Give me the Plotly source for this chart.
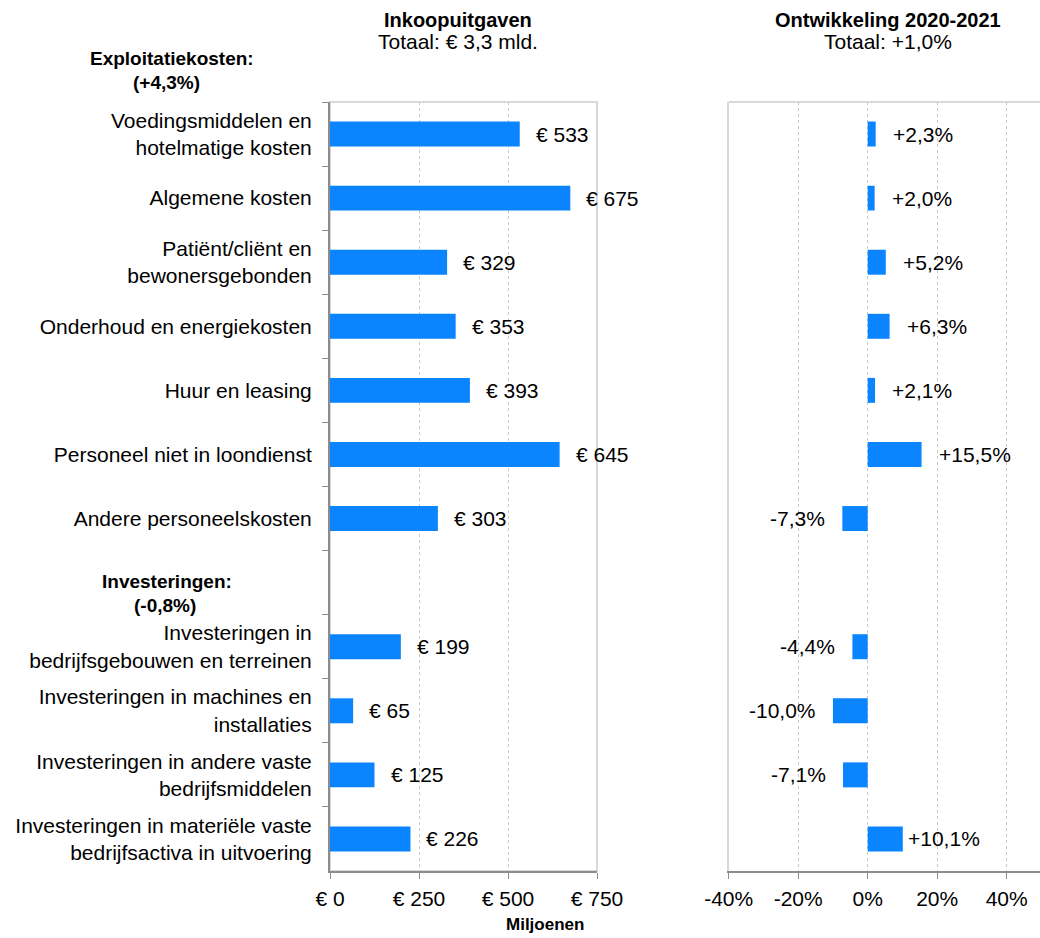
import plotly.graph_objects as go

# ---- data ----
categories = [
    "Voedingsmiddelen en<br>hotelmatige kosten",
    "Algemene kosten",
    "Patiënt/cliënt en<br>bewonersgebonden",
    "Onderhoud en energiekosten",
    "Huur en leasing",
    "Personeel niet in loondienst",
    "Andere personeelskosten",
    " ",
    "Investeringen in<br>bedrijfsgebouwen en terreinen",
    "Investeringen in machines en<br>installaties",
    "Investeringen in andere vaste<br>bedrijfsmiddelen",
    "Investeringen in materiële vaste<br>bedrijfsactiva in uitvoering",
]
spend_mln = [533, 675, 329, 353, 393, 645, 303, None, 199, 65, 125, 226]
growth_pct = [2.3, 2.0, 5.2, 6.3, 2.1, 15.5, -7.3, None, -4.4, -10.0, -7.1, 10.1]
left_ticks = [0, 250, 500, 750]
right_ticks = [-40, -20, 0, 20, 40]

title_left = ["<b>Inkoopuitgaven</b>", "Totaal: € 3,3 mld."]
title_right = ["<b>Ontwikkeling 2020-2021</b>", "Totaal: +1,0%"]
header_expl = ["<b>Exploitatiekosten:</b>", "<b>(+4,3%)</b>"]
header_inv = ["<b>Investeringen:</b>", "<b>(-0,8%)</b>"]
x_title = "<b>Miljoenen</b>"

# ---- style ----
W, H = 1040, 938
FONT = "Liberation Sans, Arial, sans-serif"
FS = 21
BLUE = "#0a84ff"
AXIS = "#8c8c8c"
BORDER = "#d9d9d9"
GRID = "#c8c8c8"
top, bottom = 102, 871
plot_h = bottom - top


def fx(p):
    return p / W


def fy(p):
    return (bottom - p) / plot_h


fig = go.Figure()
fig.add_trace(go.Bar(
    y=categories, x=spend_mln, orientation="h", marker_color=BLUE,
    marker_line_width=0, xaxis="x", yaxis="y", hoverinfo="skip"))
fig.add_trace(go.Bar(
    y=categories, x=[None if g is None else g / 100 for g in growth_pct],
    orientation="h", marker_color=BLUE, marker_line_width=0,
    xaxis="x2", yaxis="y2", hoverinfo="skip"))

annotations = []
for c, v in zip(categories, spend_mln):
    if v is None:
        continue
    annotations.append(dict(x=v, y=c, xref="x", yref="y", text=f"€ {v}",
                            showarrow=False, xanchor="left", xshift=14,
                            font=dict(size=FS)))
for c, g in zip(categories, growth_pct):
    if g is None:
        continue
    txt = f"{g:+.1f}%".replace(".", ",")
    shift = 15
    if 10 <= g < 11:
        shift = 3
    annotations.append(dict(x=g / 100, y=c, xref="x2", yref="y2", text=txt,
                            showarrow=False,
                            xanchor="left" if g >= 0 else "right",
                            xshift=shift if g >= 0 else -15,
                            font=dict(size=FS)))


def text_at(px, pyy, txt, size):
    return dict(x=fx(px), y=fy(pyy), xref="paper", yref="paper", text=txt,
                showarrow=False, xanchor="center", yanchor="middle",
                font=dict(size=size))


annotations += [
    text_at(458, 20, title_left[0], 20),
    text_at(458, 42, title_left[1], FS),
    text_at(888, 20, title_right[0], 20),
    text_at(888, 42, title_right[1], FS),
    text_at(172, 58, header_expl[0], 19),
    text_at(166, 82, header_expl[1], 19),
    text_at(167, 581, header_inv[0], 19),
    text_at(165, 605, header_inv[1], 19),
    text_at(545, 924, x_title, 17),
]

shapes = [
    dict(type="rect", xref="x domain", yref="y domain", x0=0, x1=1, y0=0, y1=1,
         line=dict(color=BORDER, width=2), layer="below"),
    dict(type="line", xref="x2 domain", yref="y2 domain", x0=0, x1=1.2, y0=1, y1=1,
         line=dict(color=BORDER, width=2), layer="below"),
]

fig.update_layout(
    width=W, height=H,
    margin=dict(l=0, r=0, t=top, b=H - bottom, autoexpand=False),
    paper_bgcolor="white", plot_bgcolor="white",
    font=dict(family=FONT, size=FS, color="black"),
    showlegend=False, bargap=0.61,
    annotations=annotations, shapes=shapes,
    xaxis=dict(domain=[fx(330), fx(597)], range=[0, 750], tickvals=left_ticks,
               ticktext=[f"€ {t}" for t in left_ticks], automargin=False,
               showgrid=True, gridcolor=GRID, griddash="dot", gridwidth=1,
               zeroline=False, showline=True, linecolor=AXIS, linewidth=2,
               ticks="outside", ticklen=6, tickcolor=AXIS, tickwidth=1,
               ticklabelstandoff=2, fixedrange=True),
    yaxis=dict(domain=[0, 1], autorange="reversed", type="category",
               automargin=False,
               showline=True, linecolor=AXIS, linewidth=2,
               ticks="outside", tickson="boundaries", ticklen=6, tickcolor=AXIS,
               showgrid=False, ticklabelstandoff=12, fixedrange=True),
    xaxis2=dict(domain=[fx(728.7), 1.0], range=[-0.4, 0.4 + 0.8 * (1040 - 1006.7) / 278],
                tickvals=[t / 100 for t in right_ticks],
                ticktext=[f"{t}%" for t in right_ticks],
                anchor="y2", automargin=False,
                showgrid=True, gridcolor=GRID, griddash="dot", gridwidth=1,
                zeroline=False, showline=True, linecolor=AXIS, linewidth=2,
                ticks="outside", ticklen=6, tickcolor=AXIS, tickwidth=1,
                ticklabelstandoff=2, fixedrange=True),
    yaxis2=dict(domain=[0, 1], anchor="x2", autorange="reversed", type="category",
                automargin=False,
                showticklabels=False, showline=True, linecolor=BORDER, linewidth=2,
                ticks="", showgrid=False, fixedrange=True),
)

fig.write_html(
    "out.html",
    config={"displayModeBar": False},
    post_script="document.body.style.margin='0';document.body.style.overflow='hidden';",
)
